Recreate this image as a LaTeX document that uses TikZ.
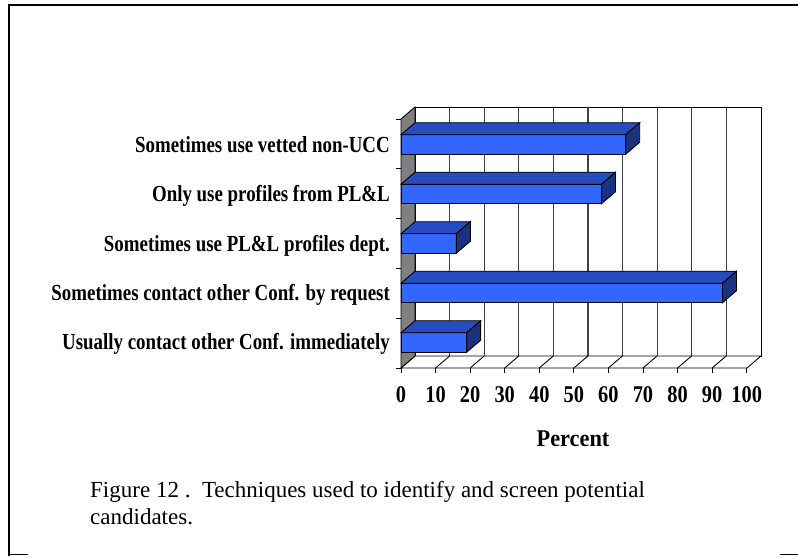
\documentclass[tikz,border=0pt]{standalone}
\usepackage{fontspec}
\setmainfont{Liberation Serif}
\usepackage{graphicx}
\definecolor{barfront}{RGB}{51,102,255}
\definecolor{bartop}{RGB}{38,77,191}
\definecolor{barside}{RGB}{26,51,128}
\definecolor{wallgray}{RGB}{128,128,128}
\begin{document}
\begin{tikzpicture}[x=1pt,y=-1pt,
  frameln/.style={line width=2pt,line cap=rect},
  edge/.style={line width=0.9pt,black},
  gridln/.style={line width=1.1pt,black!75},
  lab/.style={font=\fontsize{23}{23}\selectfont\bfseries,inner sep=0pt,anchor=base east},
  num/.style={font=\fontsize{24}{24}\selectfont\bfseries,inner sep=0pt,anchor=base},
  captext/.style={font=\fontsize{23}{27}\selectfont,inner sep=0pt,anchor=base west}]
\useasboundingbox (0,0) rectangle (798,557);
\fill[white] (0,0) rectangle (798,557);
% frame
\draw[frameln] (9,555) -- (9,4.5) -- (800,4.5);
\draw[line width=1.2pt] (9,554.5) -- (28,554.5);
\draw[line width=1.2pt] (780,554.5) -- (800,554.5);
% back wall and grid
\draw[edge,fill=white] (415,107) rectangle (761,356);
\foreach \i in {1,...,9} \draw[gridln] (415+34.6*\i,107) -- (415+34.6*\i,356);
% floor
\draw[edge,fill=white] (401,368) -- (415,356) -- (761,356) -- (747,368) -- cycle;
\foreach \i in {1,...,9} \draw[edge] (401+34.57*\i,368) -- ++(14,-12);
\foreach \i in {0,...,10} \draw[edge] (401+34.57*\i,368) -- ++(0,5);
% left wall
\draw[edge,fill=wallgray] (401,119) -- (415,107) -- (415,356) -- (401,368) -- cycle;
\foreach \i in {0,...,5} \draw[edge] (396,119+49.8*\i) -- (401,119+49.8*\i);
% bars
\foreach \v/\t in {65/134.7,58/184.2,16/233.7,93/283.2,19/332.7}{
  \pgfmathsetmacro\xe{401+3.457*\v}
  \draw[edge,fill=barfront] (401,\t) rectangle (\xe,\t+19.5);
  \draw[edge,fill=bartop] (401,\t) -- (415,\t-12) -- (\xe+14,\t-12) -- (\xe,\t) -- cycle;
  \draw[edge,fill=barside] (\xe,\t) -- (\xe+14,\t-12) -- (\xe+14,\t+7.5) -- (\xe,\t+19.5) -- cycle;
}
% category labels
\node[lab] (l1) at (390,152.5) {\scalebox{0.822}[1]{Sometimes use vetted non-UCC}};
\node[lab] (l2) at (390,201.8) {\scalebox{0.822}[1]{Only use profiles from PL\&L}};
\node[lab] (l3) at (390,251.1) {\scalebox{0.822}[1]{Sometimes use PL\&L profiles dept.}};
\node[lab] (l4) at (390,300.4) {\scalebox{0.822}[1]{Sometimes contact other Conf. by request}};
\node[lab] (l5) at (390,349.7) {\scalebox{0.822}[1]{Usually contact other Conf. immediately}};
% axis numbers
\foreach \i in {0,...,10}{
  \pgfmathtruncatemacro\val{10*\i}
  \node[num] (n\i) at (401+34.57*\i,402) {\scalebox{0.85}[1]{\val}};
}
\node[num] (xt) at (573,446.5) {\scalebox{0.93}[1]{Percent}};
% caption
\node[captext] (c1) at (90,497) {Figure 12 .\ \ Techniques used to identify and screen potential};
\node[captext] (c2) at (90,524) {candidates.};
\end{tikzpicture}
\end{document}
